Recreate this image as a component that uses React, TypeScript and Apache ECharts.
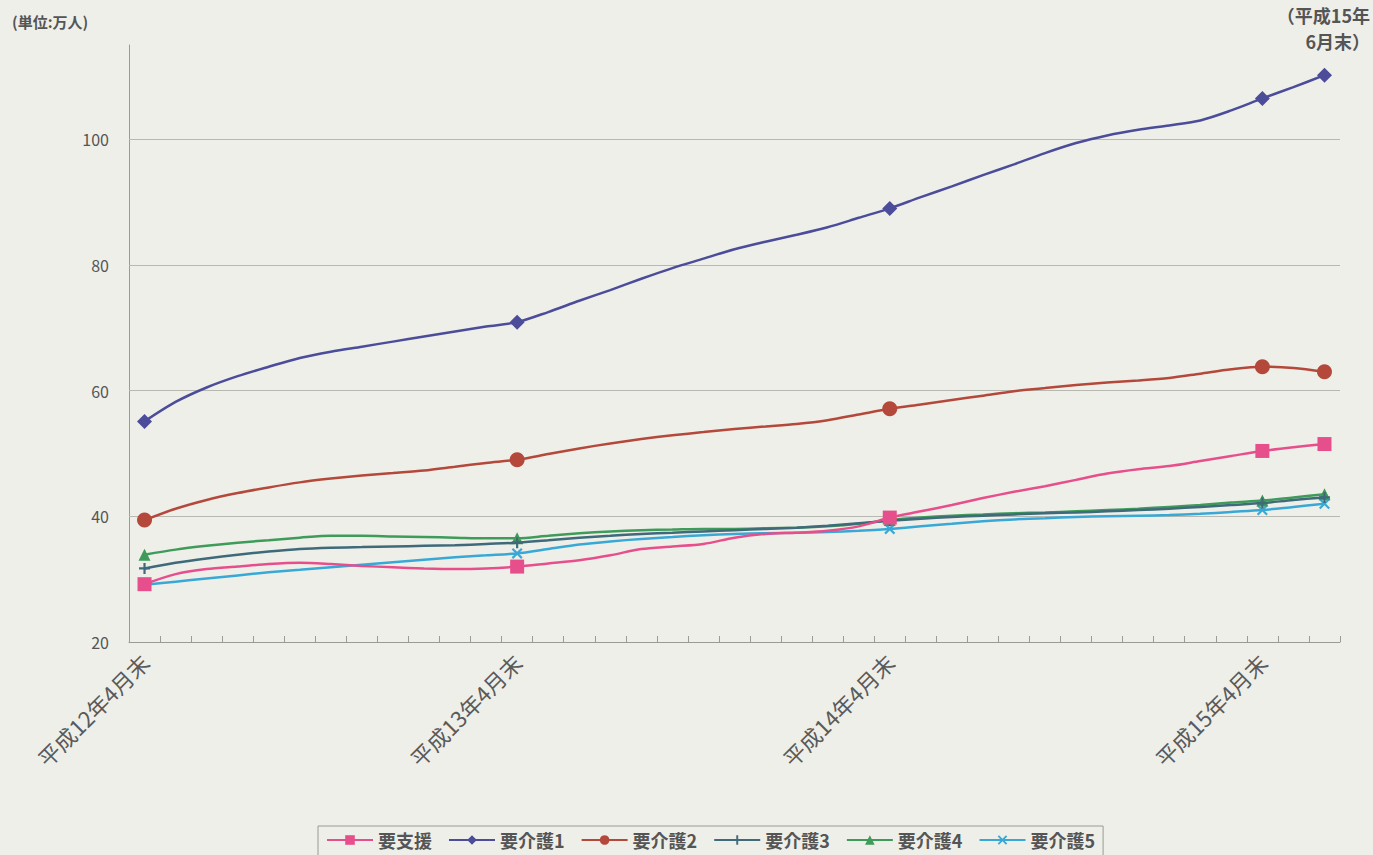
import React, { useEffect, useRef } from "react";
import * as echarts from "echarts";

const categories = [
  "平成12年4月末", "平成12年5月末", "平成12年6月末", "平成12年7月末", "平成12年8月末", "平成12年9月末",
  "平成12年10月末", "平成12年11月末", "平成12年12月末", "平成13年1月末", "平成13年2月末", "平成13年3月末",
  "平成13年4月末", "平成13年5月末", "平成13年6月末", "平成13年7月末", "平成13年8月末", "平成13年9月末",
  "平成13年10月末", "平成13年11月末", "平成13年12月末", "平成14年1月末", "平成14年2月末", "平成14年3月末",
  "平成14年4月末", "平成14年5月末", "平成14年6月末", "平成14年7月末", "平成14年8月末", "平成14年9月末",
  "平成14年10月末", "平成14年11月末", "平成14年12月末", "平成15年1月末", "平成15年2月末", "平成15年3月末",
  "平成15年4月末", "平成15年5月末", "平成15年6月末",
];

const shienValues = [
  29.2, 30.8, 31.6, 32.0, 32.4, 32.6, 32.4, 32.1, 31.9, 31.7, 31.6, 31.7,
  32.0, 32.5, 33.0, 33.8, 34.8, 35.2, 35.6, 36.6, 37.2, 37.4, 37.7, 38.4,
  39.8, 40.8, 41.8, 42.9, 43.9, 44.8, 45.8, 46.8, 47.5, 48.0, 48.8, 49.6,
  50.4, 51.0, 51.5,
];
const kaigo1Values = [
  55.1, 58.2, 60.5, 62.3, 63.8, 65.2, 66.2, 67.0, 67.8, 68.6, 69.4, 70.2,
  70.9, 72.5, 74.3, 76.0, 77.8, 79.5, 81.0, 82.5, 83.7, 84.8, 86.0, 87.5,
  89.0, 90.8, 92.5, 94.3, 96.0, 97.8, 99.4, 100.6, 101.5, 102.2, 103.0, 104.6,
  106.5, 108.3, 110.2,
];
const kaigo2Values = [
  39.4, 41.2, 42.6, 43.7, 44.6, 45.4, 46.0, 46.5, 46.9, 47.3, 47.9, 48.5,
  49.0, 49.9, 50.8, 51.6, 52.3, 52.9, 53.4, 53.9, 54.3, 54.7, 55.3, 56.2,
  57.1, 57.8, 58.5, 59.2, 59.9, 60.4, 60.9, 61.3, 61.6, 62.0, 62.7, 63.4,
  63.8, 63.6, 63.0,
];
const kaigo3Values = [
  31.7, 32.6, 33.3, 33.9, 34.4, 34.8, 35.0, 35.1, 35.2, 35.3, 35.4, 35.6,
  35.8, 36.2, 36.6, 36.9, 37.2, 37.4, 37.6, 37.8, 38.0, 38.2, 38.5, 38.9,
  39.3, 39.6, 39.9, 40.1, 40.3, 40.5, 40.6, 40.8, 41.0, 41.2, 41.5, 41.8,
  42.1, 42.6, 43.0,
];
const kaigo4Values = [
  33.9, 34.7, 35.3, 35.8, 36.2, 36.6, 36.9, 36.9, 36.8, 36.7, 36.6, 36.5,
  36.5, 36.9, 37.3, 37.6, 37.8, 37.9, 38.0, 38.0, 38.1, 38.2, 38.4, 38.8,
  39.4, 39.8, 40.1, 40.3, 40.5, 40.6, 40.8, 41.0, 41.2, 41.5, 41.8, 42.2,
  42.5, 43.0, 43.5,
];
const kaigo5Values = [
  29.1, 29.6, 30.1, 30.6, 31.1, 31.5, 31.9, 32.3, 32.7, 33.1, 33.5, 33.8,
  34.1, 34.8, 35.5, 36.0, 36.4, 36.7, 37.0, 37.2, 37.3, 37.4, 37.5, 37.7,
  38.0, 38.4, 38.8, 39.2, 39.5, 39.7, 39.9, 40.0, 40.1, 40.2, 40.4, 40.7,
  41.0, 41.5, 42.0,
];

const seriesNames = ["要支援", "要介護1", "要介護2", "要介護3", "要介護4", "要介護5"];
const yTicks = [40, 60, 80, 100];
const markerIndices = [0, 12, 24, 36, 38];
const labelIndices = [0, 12, 24, 36];

const PLUS = "path://M4,0h2v4h4v2h-4v4h-2v-4h-4v-2h4z";
const CROSS = "path://M1.4,0L5,3.6L8.6,0L10,1.4L6.4,5L10,8.6L8.6,10L5,6.4L1.4,10L0,8.6L3.6,5L0,1.4z";

const FONT = '"Noto Sans CJK JP", "Noto Sans", sans-serif';

export default function App() {
  const ref = useRef<HTMLDivElement>(null);

  useEffect(() => {
    if (!ref.current) return;
    const chart = echarts.init(ref.current, undefined, { renderer: "svg" });

    const styles = [
      { color: "#e64f8c", symbol: "rect", size: 14, values: shienValues },
      { color: "#4b4c9a", symbol: "diamond", size: 15, values: kaigo1Values },
      { color: "#b4483a", symbol: "circle", size: 15, values: kaigo2Values },
      { color: "#3e6a7a", symbol: PLUS, size: 11, values: kaigo3Values },
      { color: "#3e9b5a", symbol: "triangle", size: 12, values: kaigo4Values },
      { color: "#38a9d6", symbol: CROSS, size: 11, values: kaigo5Values },
    ];

    const series: any[] = styles.map((s, i) => ({
      name: seriesNames[i],
      type: "line",
      data: s.values,
      smooth: 0.3,
      showAllSymbol: true,
      symbol: s.symbol,
      symbolSize: (_v: any, p: any) => (markerIndices.includes(p.dataIndex) ? s.size : 0),
      lineStyle: { color: s.color, width: 2.5 },
      itemStyle: { color: s.color },
      z: 10 - i,
    }));

    series.push({
      name: "grid",
      type: "line",
      data: [],
      silent: true,
      markLine: {
        silent: true,
        symbol: "none",
        label: { show: false },
        lineStyle: { color: "#b8b8b2", width: 1, type: "solid" },
        data: yTicks.map((v) => ({ yAxis: v })),
      },
      z: 1,
    });

    chart.setOption({
      animation: false,
      backgroundColor: "#efefe9",
      textStyle: { fontFamily: FONT },
      grid: { left: 129, right: 33, top: 45, bottom: 213 },
      xAxis: {
        type: "category",
        data: categories,
        boundaryGap: true,
        axisLine: { lineStyle: { color: "#9a9a96", width: 1 } },
        axisTick: { show: true, inside: true, length: 6, interval: 0, lineStyle: { color: "#9a9a96" } },
        axisLabel: {
          interval: (idx: number) => labelIndices.includes(idx),
          rotate: 45,
          margin: 16,
          fontSize: 22,
          color: "#5a5a5a",
          fontFamily: FONT,
        },
      },
      yAxis: {
        type: "value",
        min: 20,
        max: 115,
        interval: 20,
        axisLine: { show: true, lineStyle: { color: "#9a9a96", width: 1 } },
        axisTick: { show: false },
        splitLine: { show: false },
        axisLabel: {
          formatter: (v: number) => (v % 20 === 0 ? String(v) : ""),
          fontSize: 16,
          color: "#555",
          margin: 20,
          fontFamily: FONT,
        },
      },
      legend: {
        data: seriesNames,
        top: 826,
        left: 318,
        itemWidth: 46,
        itemHeight: 12,
        itemGap: 16,
        padding: [5, 8, 10, 8],
        borderColor: "#9a9a96",
        borderWidth: 1,
        textStyle: { fontSize: 18, color: "#555", fontWeight: "bold", fontFamily: FONT },
      },
      graphic: [
        {
          type: "text",
          left: 12,
          top: 14,
          style: { text: "(単位:万人)", fontSize: 15, fill: "#555", fontFamily: FONT, fontWeight: "bold" },
        },
        {
          type: "text",
          right: 3,
          top: 6,
          style: { text: "（平成15年", fontSize: 18, fill: "#555", fontFamily: FONT, fontWeight: "bold" },
        },
        {
          type: "text",
          right: 3,
          top: 32,
          style: { text: "6月末）", fontSize: 18, fill: "#555", fontFamily: FONT, fontWeight: "bold" },
        },
      ],
      series,
    });

    return () => chart.dispose();
  }, []);

  return (
    <div
      style={{ position: "fixed", left: 0, top: 0, width: 1373, height: 855, background: "#efefe9" }}
    >
      <div ref={ref} style={{ width: 1373, height: 855 }} />
    </div>
  );
}
